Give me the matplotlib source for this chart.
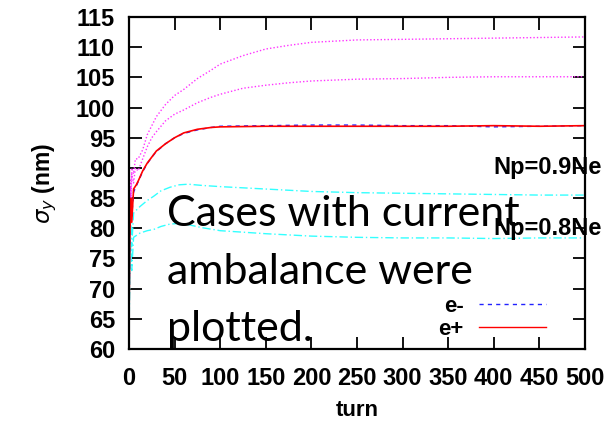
import matplotlib
matplotlib.use("Agg")
import matplotlib.pyplot as plt

plt.rcParams['font.family'] = ['Liberation Sans', 'DejaVu Sans']

# beam size evolution, sigma_y in nm vs. turn
turn_mag = [0, 1, 2, 3, 5, 7, 10, 15, 20, 25, 30, 40, 50, 60, 75, 90, 100,
            125, 150, 175, 200, 250, 300, 350, 400, 450, 500]
sig_mag_hi = [66, 88, 84, 90, 89, 91.5, 91.5, 93, 95.5, 97, 98.5, 100.5, 102,
              103, 104.8, 106.2, 107.2, 108.6, 109.7, 110.3, 110.8, 111.2,
              111.3, 111.4, 111.5, 111.6, 111.7]
sig_mag_lo = [64, 87, 83, 89, 87.5, 90, 89.5, 91.5, 93.5, 95, 96, 97.8, 98.9,
              99.6, 100.8, 101.7, 102.2, 103.2, 103.7, 104.1, 104.4, 104.7,
              104.8, 105.0, 105.1, 105.1, 105.1]

turn_pm = [0, 1, 2, 3, 5, 8, 10, 15, 20, 25, 30, 40, 50, 60, 75, 90, 100,
           150, 200, 250, 300, 350, 400, 450, 500]
sig_em = [65, 80, 84, 82, 86, 87, 87.7, 89.4, 90.7, 91.8, 92.7, 94.0, 95.0,
          95.7, 96.3, 96.7, 96.9, 97.0, 97.1, 97.1, 97.0, 97.0, 96.8, 96.9,
          97.0]
sig_ep = [65, 79, 85, 81, 86.5, 87.2, 87.8, 89.5, 90.8, 91.8, 92.8, 94.0, 95.0,
          95.8, 96.4, 96.7, 96.8, 96.9, 96.9, 96.9, 96.9, 96.9, 97.0, 96.9,
          97.0]

turn_cy = [0, 1, 2, 3, 5, 8, 12, 20, 27, 35, 45, 55, 65, 80, 100, 150, 200,
           250, 300, 350, 400, 450, 500]
sig_cy_hi = [64, 76, 81, 77, 82.5, 83, 83.6, 84.6, 85.3, 86.2, 86.8, 87.2,
             87.3, 87.1, 86.9, 86.5, 86.1, 85.9, 85.8, 85.7, 85.6, 85.5, 85.5]
sig_cy_lo = [63, 72, 77, 73, 78.5, 78.8, 79.2, 79.6, 79.8, 80.3, 80.7, 80.8,
             80.6, 80.1, 79.6, 79.1, 78.7, 78.5, 78.4, 78.4, 78.3, 78.4, 78.4]

xticks = list(range(0, 501, 50))
yticks = list(range(60, 116, 5))

fig = plt.figure(figsize=(6.12, 4.22), dpi=100)
ax = fig.add_axes([0.2108, 0.1730, 0.7451, 0.7867])

dot = (0, (1, 1.5))
ax.plot(turn_mag, sig_mag_hi, color='#ff33ff', lw=1.0, ls=dot)
ax.plot(turn_mag, sig_mag_lo, color='#ff33ff', lw=1.0, ls=dot)
ax.plot(turn_cy, sig_cy_hi, color='#33ffff', lw=1.0, ls=(0, (6, 2, 1, 2)))
ax.plot(turn_cy, sig_cy_lo, color='#33ffff', lw=1.0, ls=(0, (6, 2, 1, 2)))
ax.plot(turn_pm, sig_em, color='#2222ff', lw=1.0, ls=(0, (3, 3)), label='e-')
ax.plot(turn_pm, sig_ep, color='#ff0000', lw=1.2, label='e+')

ax.set_xlim(0, 500)
ax.set_ylim(60, 115)
ax.set_xticks(xticks)
ax.set_yticks(yticks)
ax.tick_params(direction='in', top=True, right=True, length=9, width=1.3,
               labelsize=17)
ax.tick_params(axis='x', pad=13)
ax.tick_params(axis='y', pad=10)
for lab in ax.get_xticklabels() + ax.get_yticklabels():
    lab.set_fontweight('bold')
for sp in ax.spines.values():
    sp.set_linewidth(1.6)

ax.set_xlabel('turn', fontsize=16, fontweight='bold', labelpad=7)
ax.set_ylabel(r'$\sigma_y$ (nm)', fontsize=16.5, fontweight='bold', labelpad=12)

ax.text(400, 90, 'Np=0.9Ne', fontsize=17, fontweight='bold', va='center',
        ha='left', clip_on=False)
ax.text(400, 79.9, 'Np=0.8Ne', fontsize=17, fontweight='bold', va='center',
        ha='left', clip_on=False)

leg = ax.legend(loc='lower right', bbox_to_anchor=(0.934, 0.0), frameon=False,
                markerfirst=False, fontsize=16, handlelength=3.0,
                handletextpad=0.7, labelspacing=0.1, borderaxespad=0)
for t in leg.get_texts():
    t.set_fontweight('bold')
for h in leg.get_lines():
    h.set_linewidth(1.0)

note = ['Cases with current', 'ambalance were', 'plotted.']
for i, line in enumerate(note):
    fig.text(167 / 612, 1 - (226 + 57.5 * i) / 422, line, fontsize=31,
             family='Lato', va='baseline', ha='left')

fig.savefig('out.png', dpi=100)
